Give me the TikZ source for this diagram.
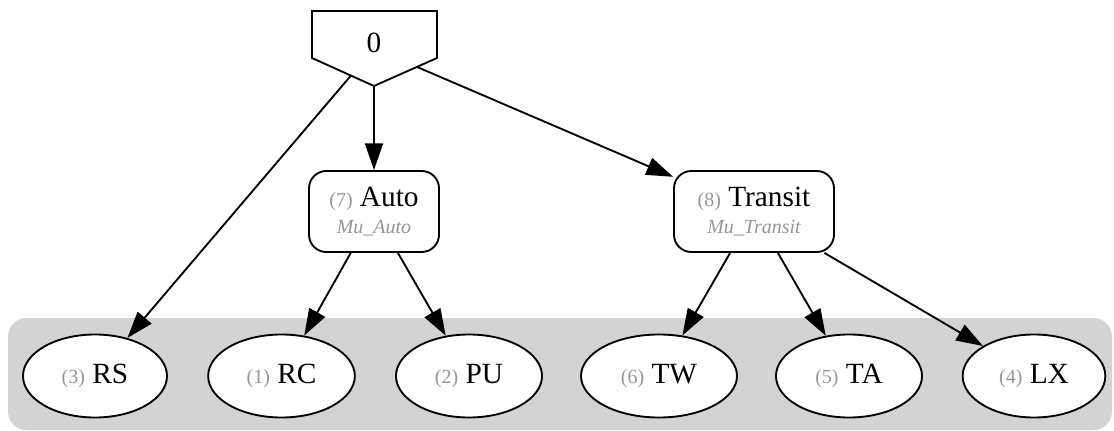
\documentclass[tikz,border=0pt]{standalone}
\usepackage{fontspec}
\setmainfont{Liberation Serif}
\usetikzlibrary{shapes.geometric,arrows.meta,intersections}
\definecolor{lbl}{RGB}{150,150,150}
\definecolor{bg}{RGB}{211,211,211}
\newcommand\smallg{\fontsize{15}{18}\selectfont\color{lbl}}
\begin{document}
\begin{tikzpicture}[x=0.75pt,y=-0.75pt, line width=1.4pt,
  every node/.style={font=\fontsize{22}{20}\selectfont},
  leaf/.style={ellipse,draw,fill=white,minimum height=62.25pt,inner sep=0pt},
  mid/.style={rectangle,rounded corners=13pt,draw,fill=white,minimum height=60.75pt,align=center,inner sep=0pt},
  edge/.style={-{Triangle[length=20pt,width=13.5pt]}}]
\useasboundingbox (0,0) rectangle (1114,431);
\fill[bg, rounded corners=14pt] (8,318) rectangle (1112,430);

% top node: inverted house
\coordinate (zc) at (374,48.5);
\draw[fill=white, line join=miter, name path=pent] (312,11) -- (437,11) -- (437,58) -- (374,86) -- (312,58) -- cycle;
\node[inner sep=0pt] (zero) at (374,43) {0};

\node[mid, minimum width=97.5pt] (auto) at (374,211.5) {{\smallg(7)} Auto\\{\smallg\itshape Mu\_Auto}};
\node[mid, minimum width=120pt] (transit) at (754,211.5) {{\smallg(8)} Transit\\{\smallg\itshape Mu\_Transit}};

\node[leaf, minimum width=108pt] (rs) at (95,376) {{\smallg(3)} RS};
\node[leaf, minimum width=110pt] (rc) at (281.5,376) {{\smallg(1)} RC};
\node[leaf, minimum width=109.5pt] (pu) at (469,376) {{\smallg(2)} PU};
\node[leaf, minimum width=117pt] (tw) at (659,376) {{\smallg(6)} TW};
\node[leaf, minimum width=109.5pt] (ta) at (849,376) {{\smallg(5)} TA};
\node[leaf, minimum width=107pt] (lx) at (1034,376) {{\smallg(4)} LX};

\path[name path=l1] (zc) -- (rs.center);
\path[name path=l2] (zc) -- (auto.center);
\path[name path=l3] (zc) -- (transit.center);
\draw[edge, name intersections={of=pent and l1}] (intersection-1) -- (rs);
\draw[edge, name intersections={of=pent and l2}] (intersection-1) -- (auto);
\draw[edge, name intersections={of=pent and l3}] (intersection-1) -- (transit);
\draw[edge] (auto) -- (rc);
\draw[edge] (auto) -- (pu);
\draw[edge] (transit) -- (tw);
\draw[edge] (transit) -- (ta);
\draw[edge] (transit) -- (lx);
\end{tikzpicture}
\end{document}
